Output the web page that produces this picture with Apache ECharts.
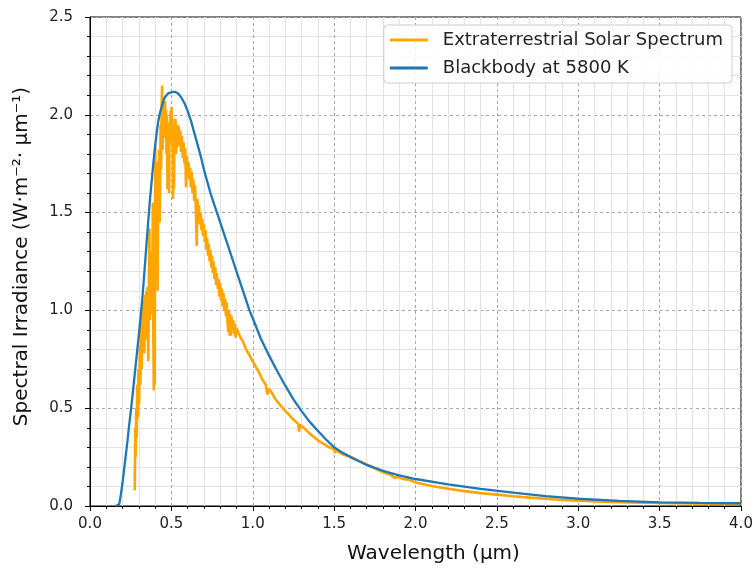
<!DOCTYPE html>
<html>
<head>
<meta charset="utf-8">
<title>Extraterrestrial Solar Spectrum vs Blackbody</title>
<script src="https://cdn.jsdelivr.net/npm/echarts@6/dist/echarts.min.js"></script>
<style>
  html, body { margin: 0; padding: 0; background: #fff; }
  #chart { width: 756px; height: 572px; }
</style>
</head>
<body>
<div id="chart"></div>
<script>
// wavelengths (µm) and irradiance
var solarWl = [
  0.275, 0.278, 0.281, 0.284, 0.287, 0.290, 0.294, 0.298, 0.302, 0.306,
  0.310, 0.314, 0.318, 0.322, 0.326, 0.330, 0.334, 0.338, 0.342, 0.346,
  0.350, 0.354, 0.358, 0.362, 0.365, 0.368, 0.372, 0.376, 0.380, 0.383,
  0.386, 0.389, 0.392, 0.395, 0.398,
  0.401, 0.404, 0.407, 0.410, 0.413, 0.416, 0.419, 0.422, 0.425, 0.428,
  0.431, 0.434, 0.437, 0.440, 0.443, 0.446, 0.449, 0.452, 0.455, 0.458,
  0.461, 0.464, 0.467, 0.470, 0.473, 0.476, 0.479, 0.482, 0.486, 0.489,
  0.492, 0.495, 0.498, 0.501, 0.504, 0.507, 0.510, 0.513, 0.516, 0.519,
  0.522, 0.525, 0.528, 0.531, 0.534, 0.537, 0.540,
  0.545, 0.550, 0.555, 0.560, 0.565, 0.570, 0.575, 0.580, 0.585, 0.590,
  0.595, 0.600, 0.605, 0.610, 0.615, 0.620, 0.625, 0.630, 0.635, 0.640,
  0.645, 0.650, 0.656, 0.660, 0.665, 0.670, 0.675, 0.680, 0.685, 0.690,
  0.695, 0.700, 0.705, 0.710, 0.715, 0.720, 0.725, 0.730, 0.735, 0.740,
  0.745, 0.750, 0.755, 0.760, 0.765, 0.770, 0.775, 0.780, 0.785, 0.790,
  0.795, 0.800, 0.805, 0.810, 0.815, 0.820, 0.825, 0.830, 0.835, 0.840,
  0.845, 0.850, 0.854, 0.858, 0.862, 0.866, 0.870, 0.875, 0.880, 0.885,
  0.890, 0.895, 0.900,
  0.92, 0.94, 0.96, 0.98, 1.00, 1.02, 1.04, 1.06, 1.08, 1.09,
  1.10, 1.12, 1.14, 1.16, 1.18, 1.20, 1.22, 1.24, 1.26, 1.28,
  1.285, 1.29, 1.32, 1.35, 1.38, 1.41, 1.44, 1.47, 1.50, 1.505,
  1.51, 1.55, 1.60, 1.65, 1.70, 1.75, 1.80, 1.85, 1.87, 1.88,
  1.90, 1.92, 1.93, 1.96, 2.00, 2.1, 2.2, 2.3, 2.4, 2.5,
  2.6, 2.7, 2.8, 2.9, 3.0, 3.2, 3.4, 3.6, 3.8, 4.0
];
var solarIrr = [
  0.08, 0.40, 0.25, 0.50, 0.35, 0.62, 0.45, 0.70, 0.52, 0.82,
  0.62, 0.95, 0.70, 1.02, 0.80, 1.05, 0.78, 1.08, 0.85, 1.10,
  0.88, 1.12, 0.74, 1.15, 1.42, 0.95, 1.20, 0.98, 1.30, 1.05,
  1.55, 0.90, 0.59, 1.25, 0.62,
  1.85, 1.40, 1.72, 1.38, 1.76, 1.10, 1.68, 1.48, 1.82, 1.45,
  1.62, 1.95, 1.72, 2.02, 2.15, 1.82, 2.06, 1.88, 2.04, 1.90,
  2.07, 1.93, 2.02, 1.80, 2.00, 1.62, 1.95, 1.85, 1.60, 1.96,
  1.86, 2.02, 1.88, 2.04, 1.87, 1.98, 1.57, 1.95, 1.62, 1.92,
  1.82, 1.98, 1.80, 1.94, 1.83, 1.95, 1.86,
  1.94, 1.84, 1.92, 1.81, 1.89, 1.78, 1.86, 1.75, 1.83, 1.63,
  1.79, 1.69, 1.76, 1.67, 1.73, 1.63, 1.71, 1.60, 1.67, 1.56,
  1.64, 1.53, 1.33, 1.57, 1.48, 1.54, 1.44, 1.50, 1.41, 1.47,
  1.38, 1.44, 1.35, 1.41, 1.31, 1.37, 1.28, 1.34, 1.25, 1.31,
  1.22, 1.28, 1.19, 1.25, 1.16, 1.22, 1.13, 1.19, 1.11, 1.16,
  1.07, 1.14, 1.05, 1.11, 1.02, 1.09, 1.00, 1.06, 0.97, 1.04,
  0.94, 0.89, 1.00, 0.87, 0.98, 0.87, 0.97, 0.90, 0.95, 0.88,
  0.93, 0.86, 0.91,
  0.87, 0.84, 0.80, 0.77, 0.74, 0.71, 0.68, 0.645, 0.62, 0.57,
  0.60, 0.575, 0.545, 0.525, 0.505, 0.485, 0.47, 0.45, 0.435, 0.42,
  0.38, 0.415, 0.395, 0.37, 0.35, 0.33, 0.315, 0.30, 0.29, 0.27,
  0.285, 0.265, 0.252, 0.232, 0.212, 0.193, 0.172, 0.158, 0.145, 0.155,
  0.148, 0.138, 0.143, 0.135, 0.12, 0.102, 0.088, 0.076, 0.066, 0.058,
  0.05, 0.043, 0.037, 0.031, 0.027, 0.021, 0.017, 0.014, 0.012, 0.01
];

var bbWl = [
  0.16, 0.18, 0.19, 0.20, 0.21, 0.22, 0.23, 0.24, 0.25, 0.26,
  0.27, 0.28, 0.29, 0.30, 0.31, 0.32, 0.33, 0.34, 0.35, 0.36,
  0.37, 0.38, 0.39, 0.40, 0.41, 0.42, 0.43, 0.44, 0.45, 0.46,
  0.47, 0.48, 0.50, 0.52, 0.54, 0.56, 0.58, 0.60, 0.62, 0.64,
  0.66, 0.68, 0.70, 0.72, 0.74, 0.76, 0.78, 0.80, 0.82, 0.84,
  0.86, 0.88, 0.90, 0.92, 0.94, 0.96, 0.98, 1.00, 1.05, 1.10,
  1.15, 1.20, 1.25, 1.30, 1.35, 1.40, 1.45, 1.50, 1.55, 1.60,
  1.65, 1.70, 1.75, 1.80, 1.90, 2.00, 2.20, 2.40, 2.60, 2.80,
  3.00, 3.25, 3.50, 3.75, 4.00
];
var bbIrr = [
  0.0, 0.01, 0.06, 0.12, 0.19, 0.26, 0.33, 0.41, 0.48, 0.555,
  0.635, 0.715, 0.795, 0.875, 0.96, 1.045, 1.15, 1.26, 1.37, 1.48,
  1.58, 1.67, 1.76, 1.84, 1.91, 1.97, 2.01, 2.04, 2.07, 2.09,
  2.10, 2.11, 2.115, 2.118, 2.11, 2.09, 2.06, 2.02, 1.97, 1.91,
  1.85, 1.79, 1.72, 1.66, 1.60, 1.55, 1.50, 1.45, 1.40, 1.35,
  1.30, 1.25, 1.20, 1.15, 1.10, 1.05, 1.00, 0.96, 0.855, 0.77,
  0.69, 0.615, 0.545, 0.485, 0.43, 0.385, 0.34, 0.30, 0.273, 0.25,
  0.23, 0.21, 0.195, 0.18, 0.157, 0.138, 0.11, 0.088, 0.068, 0.05,
  0.037, 0.026, 0.019, 0.016, 0.014
];

var seriesNames = ['Extraterrestrial Solar Spectrum', 'Blackbody at 5800 K'];

function toPairs(xs, ys) {
  var out = [];
  for (let i = 0; i < xs.length; i = i + 1) {
    out.push([xs[i], ys[i]]);
  }
  return out;
}

var font = 'DejaVu Sans';
var axisCommon = {
  type: 'value',
  axisLine: { show: true, onZero: false, lineStyle: { color: '#000', width: 1 } },
  axisTick: { show: true, length: 5, lineStyle: { color: '#000' } },
  minorTick: { show: true, splitNumber: 5, length: 3, lineStyle: { color: '#000' } },
  splitLine: { show: true, lineStyle: { color: '#a8a8a8', width: 1, type: [3, 3] } },
  minorSplitLine: { show: true, lineStyle: { color: '#e3e3e3', width: 1 } },
  nameLocation: 'middle'
};

var myChart = echarts.init(document.getElementById('chart'));
var option;

option = {
  animation: false,
  backgroundColor: '#fff',
  grid: {
    left: 90, right: 15, top: 17, bottom: 66,
    show: true, borderColor: '#000', borderWidth: 1, backgroundColor: 'transparent'
  },
  legend: {
    orient: 'vertical',
    top: 25,
    right: 24,
    itemWidth: 38,
    itemHeight: 3,
    itemGap: 10,
    icon: 'rect',
    padding: [6, 9, 6, 6],
    backgroundColor: 'rgba(255,255,255,0.85)',
    borderColor: '#cccccc',
    borderWidth: 1,
    borderRadius: 4,
    textStyle: { fontFamily: font, fontSize: 18, color: '#222', padding: [0, 0, 0, 10] },
    data: seriesNames
  },
  xAxis: Object.assign({}, axisCommon, {
    min: 0, max: 4, interval: 0.5,
    name: 'Wavelength (µm)',
    nameGap: 38,
    nameTextStyle: { fontFamily: font, fontSize: 20, color: '#111', padding: [0, 0, 0, 36] },
    axisLabel: {
      fontFamily: font, fontSize: 15, color: '#222', margin: 11,
      formatter: function (v) { return v.toFixed(1); }
    }
  }),
  yAxis: Object.assign({}, axisCommon, {
    min: 0, max: 2.5, interval: 0.5,
    name: 'Spectral Irradiance (W·m⁻²· µm⁻¹)',
    nameGap: 58,
    nameTextStyle: { fontFamily: font, fontSize: 20, color: '#111', padding: [0, 0, 0, 10] },
    axisLabel: {
      fontFamily: font, fontSize: 15, color: '#222', margin: 17,
      formatter: function (v) { return v.toFixed(1); }
    }
  }),
  series: [
    {
      name: seriesNames[0],
      type: 'line',
      data: toPairs(solarWl, solarIrr),
      showSymbol: false,
      symbol: 'none',
      color: '#ffa500',
      lineStyle: { color: '#ffa500', width: 2.6 },
      emphasis: { disabled: true }
    },
    {
      name: seriesNames[1],
      type: 'line',
      data: toPairs(bbWl, bbIrr),
      showSymbol: false,
      symbol: 'none',
      color: '#1f77b4',
      lineStyle: { color: '#1f77b4', width: 2.3 },
      emphasis: { disabled: true }
    }
  ]
};

option && myChart.setOption(option);
</script>
</body>
</html>
